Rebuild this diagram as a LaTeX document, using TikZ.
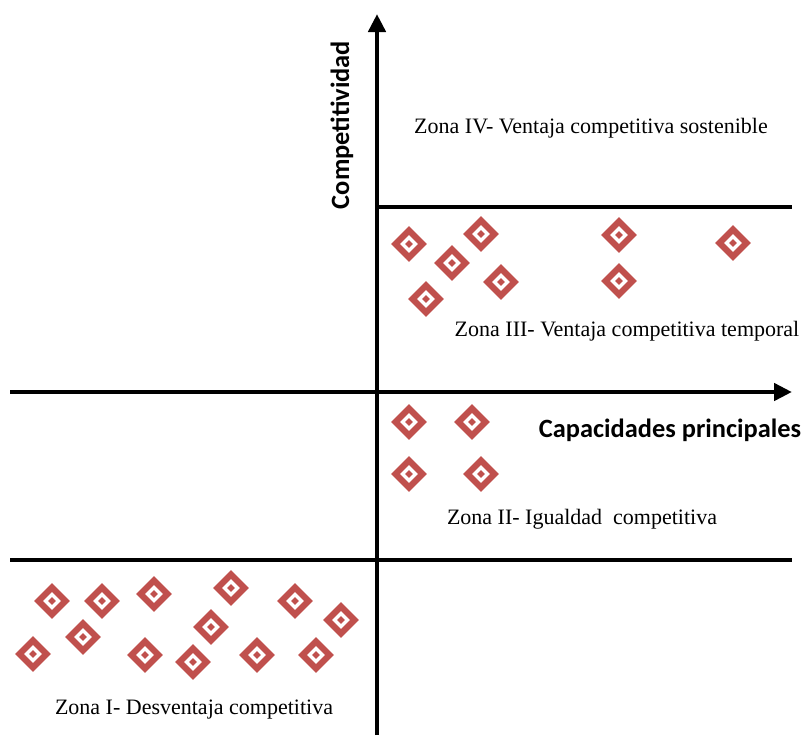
\documentclass[tikz,border=0pt]{standalone}
\usepackage{fontspec}
\setmainfont{Liberation Serif}
\newfontfamily\axisfont{Carlito}
\usepackage{tikz}
\usetikzlibrary{arrows.meta,shapes.geometric}
\usepackage{xcolor}
\definecolor{zonered}{HTML}{C0504D}

\tikzset{
  axisline/.style={line width=2.3pt, black},
  axisarrow/.style={axisline, -{Triangle[length=9pt,width=8.5pt]}},
  mk/.style={diamond, fill=zonered, inner sep=0pt, minimum size=18pt},
  mkring/.style={diamond, fill=white, inner sep=0pt, minimum size=9pt},
  mkdot/.style={diamond, fill=zonered, inner sep=0pt, minimum size=4pt},
  zonetext/.style={font=\fontsize{11}{13}\selectfont},
  axistext/.style={font=\axisfont\bfseries\fontsize{13.2}{15}\selectfont}
}

\begin{document}
\begin{tikzpicture}[x=0.5pt,y=-0.5pt]
		\useasboundingbox (0,0) rectangle (803,735);
		\coordinate (Origin)   at (377,392);
		\coordinate (XAxisMin) at (10,392);
		\coordinate (XAxisMax) at (792,392);
		\coordinate (YAxisMin) at (377,735);
		\coordinate (YAxisMax) at (377,14);
		\coordinate (TopMin)   at (377,207);
		\coordinate (TopMax)   at (792,207);
		\coordinate (LowMin)   at (10,560);
		\coordinate (LowMax)   at (792,560);
		\draw [axisarrow] (XAxisMin) -- (XAxisMax);% x axis
		\draw [axisarrow] (YAxisMin) -- (YAxisMax);% y axis
		\draw [axisline] (TopMin) -- (TopMax);% upper zone limit
		\draw [axisline] (LowMin) -- (LowMax);% lower zone limit

		\node[axistext, rotate=90] (YLabel) at (342,125) {Competitividad};
		\node[axistext] (XLabel) at (670,430) {Capacidades principales};

		\node[zonetext] (ZoneIV)  at (591,128) {Zona IV- Ventaja competitiva sostenible};
		\node[zonetext] (ZoneIII) at (627,331) {Zona III- Ventaja competitiva temporal};
		\node[zonetext] (ZoneII)  at (582,519) {Zona II- Igualdad\ \ competitiva};
		\node[zonetext] (ZoneI)   at (194,710) {Zona I- Desventaja competitiva};

		\foreach \p [count=\i] in {(409,244),(481,234),(452,263),(501,282),(426,299),
		    (619,235),(619,281),(733,243),% zone III
		    (409,422),(472,422),(409,474),(481,474),% zone II
		    (52,601),(102,601),(154,594),(231,588),(295,601),(341,620),(211,627),
		    (83,637),(33,654),(145,655),(193,662),(257,655),(316,655)}{% zone I
			\node[mk] (m\i) at \p {};
			\node[mkring] (m\i r) at (m\i) {};
			\node[mkdot] (m\i d) at (m\i) {};
		}
	  \end{tikzpicture}
\end{document}
